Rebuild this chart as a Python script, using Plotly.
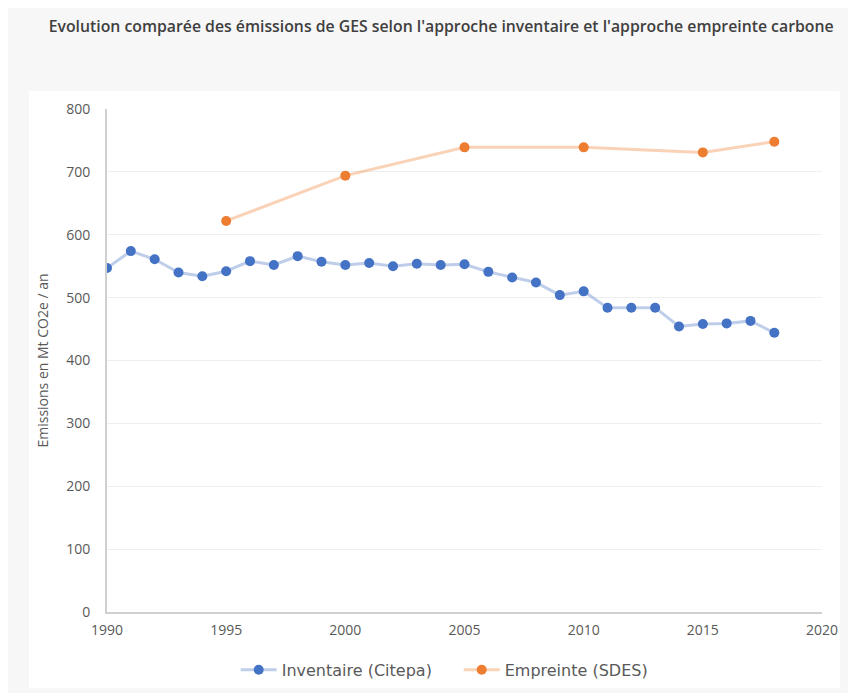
import plotly.graph_objects as go

years_inv = list(range(1990, 2019))
inventaire = [547, 574, 561, 540, 534, 542, 558, 552, 566, 557, 552, 555, 550, 554, 552,
              553, 541, 532, 524, 504, 510, 484, 484, 484, 454, 458, 459, 463, 444]

years_emp = [1995, 2000, 2005, 2010, 2015, 2018]
empreinte = [622, 694, 739, 739, 731, 748]

title_txt = "Evolution comparée des émissions de GES selon l'approche inventaire et l'approche empreinte carbone"

fig = go.Figure()
fig.add_scatter(x=years_inv, y=inventaire, mode="lines+markers", name="Inventaire (Citepa)",
                line=dict(color="rgba(68,114,196,0.35)", width=3),
                marker=dict(color="#4472C4", size=10))
fig.add_scatter(x=years_emp, y=empreinte, mode="lines+markers", name="Empreinte (SDES)",
                line=dict(color="rgba(237,125,49,0.35)", width=3),
                marker=dict(color="#ED7D31", size=10))

# white chart panel on the grey page
fig.add_shape(type="rect", xref="paper", yref="paper", x0=-0.109, x1=1.025, y0=-0.151, y1=1.036,
              fillcolor="white", line=dict(width=0), layer="below")

# page has an 8px body margin, so offsets are 8px less than the reference
fig.update_layout(
    width=856, height=693,
    margin=dict(l=99, r=42, t=101, b=89),
    paper_bgcolor="#f7f7f7", plot_bgcolor="white",
    font=dict(family="Open Sans, sans-serif", color="#595959", size=14),
    title=dict(text=title_txt, xref="container", x=0.506, xanchor="center",
               yref="container", y=0.973, yanchor="middle",
               font=dict(family="Open Sans", size=15.8, color="#404040", weight=600)),
    showlegend=True,
    legend=dict(orientation="h", x=0.18, xanchor="left", y=-0.115, yanchor="middle",
                entrywidth=172, entrywidthmode="pixels", itemwidth=36,
                font=dict(family="DejaVu Sans", size=16, color="#595959"), bgcolor="rgba(0,0,0,0)"),
)
fig.update_xaxes(range=[1990, 2020], dtick=5, tick0=1990, showgrid=False, zeroline=False,
                 showline=True, linecolor="#d0d0d0", linewidth=2, ticks="",
                 ticklabelstandoff=4, tickfont=dict(size=14))
fig.update_yaxes(range=[0, 800], dtick=100, showgrid=True, gridcolor="#efefef", zeroline=False,
                 showline=True, linecolor="#d0d0d0", linewidth=2, ticks="",
                 ticklabelstandoff=12, tickfont=dict(size=14),
                 title=dict(text="Emissions en Mt CO2e / an", font=dict(size=14), standoff=14))

fig.write_html("out.html")
